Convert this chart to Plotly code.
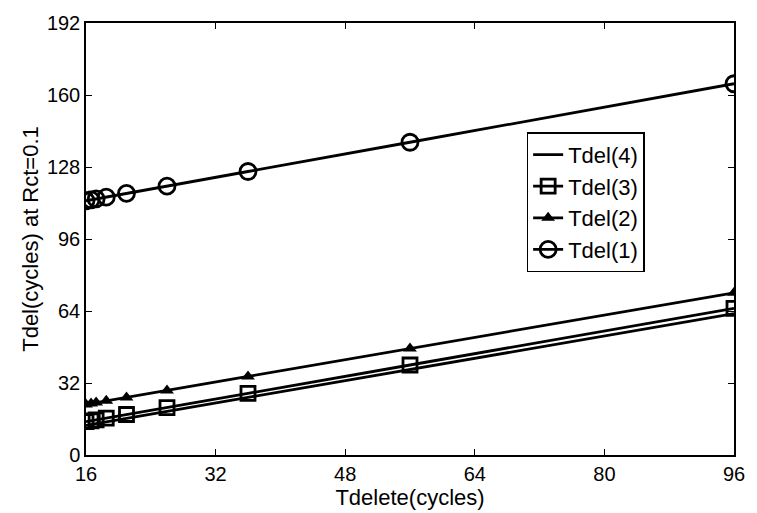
import plotly.graph_objects as go

x_vals = [16, 16.625, 17.25, 18.5, 21, 26, 36, 56, 96]
tdel4 = [13.2, 13.6, 14.0, 14.7, 16.3, 19.4, 25.6, 38.0, 62.8]
tdel3 = [14.8, 15.2, 15.6, 16.4, 18.0, 21.1, 27.4, 40.0, 65.2]
tdel2 = [22.5, 22.9, 23.3, 24.1, 25.6, 28.7, 34.9, 47.3, 72.1]
tdel1 = [113.0, 113.4, 113.8, 114.6, 116.3, 119.5, 126.0, 139.0, 165.0]
x_ticks = [16, 32, 48, 64, 80, 96]
y_ticks = [0, 32, 64, 96, 128, 160, 192]

fig = go.Figure()
lw = 2.8
fig.add_trace(go.Scatter(x=x_vals, y=tdel4, mode="lines", name="Tdel(4)",
                         line=dict(color="black", width=lw)))
fig.add_trace(go.Scatter(x=x_vals, y=tdel3, mode="lines+markers", name="Tdel(3)",
                         line=dict(color="black", width=lw),
                         marker=dict(symbol="square-open", size=14, color="black",
                                     line=dict(width=2.8, color="black"))))
fig.add_trace(go.Scatter(x=x_vals, y=tdel2, mode="lines+markers", name="Tdel(2)",
                         line=dict(color="black", width=lw),
                         marker=dict(symbol="triangle-up", size=12, color="black")))
fig.add_trace(go.Scatter(x=x_vals, y=tdel1, mode="lines+markers", name="Tdel(1)",
                         line=dict(color="black", width=lw),
                         marker=dict(symbol="circle-open", size=16, color="black",
                                     line=dict(width=2.8, color="black"))))

fam = "Liberation Sans, Arial, sans-serif"
tick_font = dict(family=fam, size=20, color="black")
title_font = dict(family=fam, size=22, color="black")
fig.update_layout(
    width=757, height=513,
    margin=dict(l=86, r=14, t=20, b=58),
    paper_bgcolor="white", plot_bgcolor="white",
    font=tick_font,
    showlegend=True,
    legend=dict(x=0.68, y=0.747, xanchor="left", yanchor="top",
                bgcolor="white", bordercolor="black", borderwidth=1.5,
                font=dict(family=fam, size=22, color="black"),
                entrywidth=140, entrywidthmode="pixels",
                tracegroupgap=0),
)
fig.update_xaxes(range=[16, 96], tickvals=x_ticks, ticks="inside", ticklen=6,
                 tickcolor="black", tickfont=tick_font, showgrid=False, zeroline=False,
                 showline=True, linecolor="black", linewidth=1.5, mirror="ticks",
                 title=dict(text="Tdelete(cycles)", standoff=0, font=title_font))
fig.update_yaxes(range=[0, 192], tickvals=y_ticks, ticks="inside", ticklen=6,
                 tickcolor="black", tickfont=tick_font, showgrid=False, zeroline=False,
                 showline=True, linecolor="black", linewidth=1.5, mirror="ticks",
                 title=dict(text="Tdel(cycles) at Rct=0.1", standoff=2, font=title_font))

fig.write_html("out.html")
